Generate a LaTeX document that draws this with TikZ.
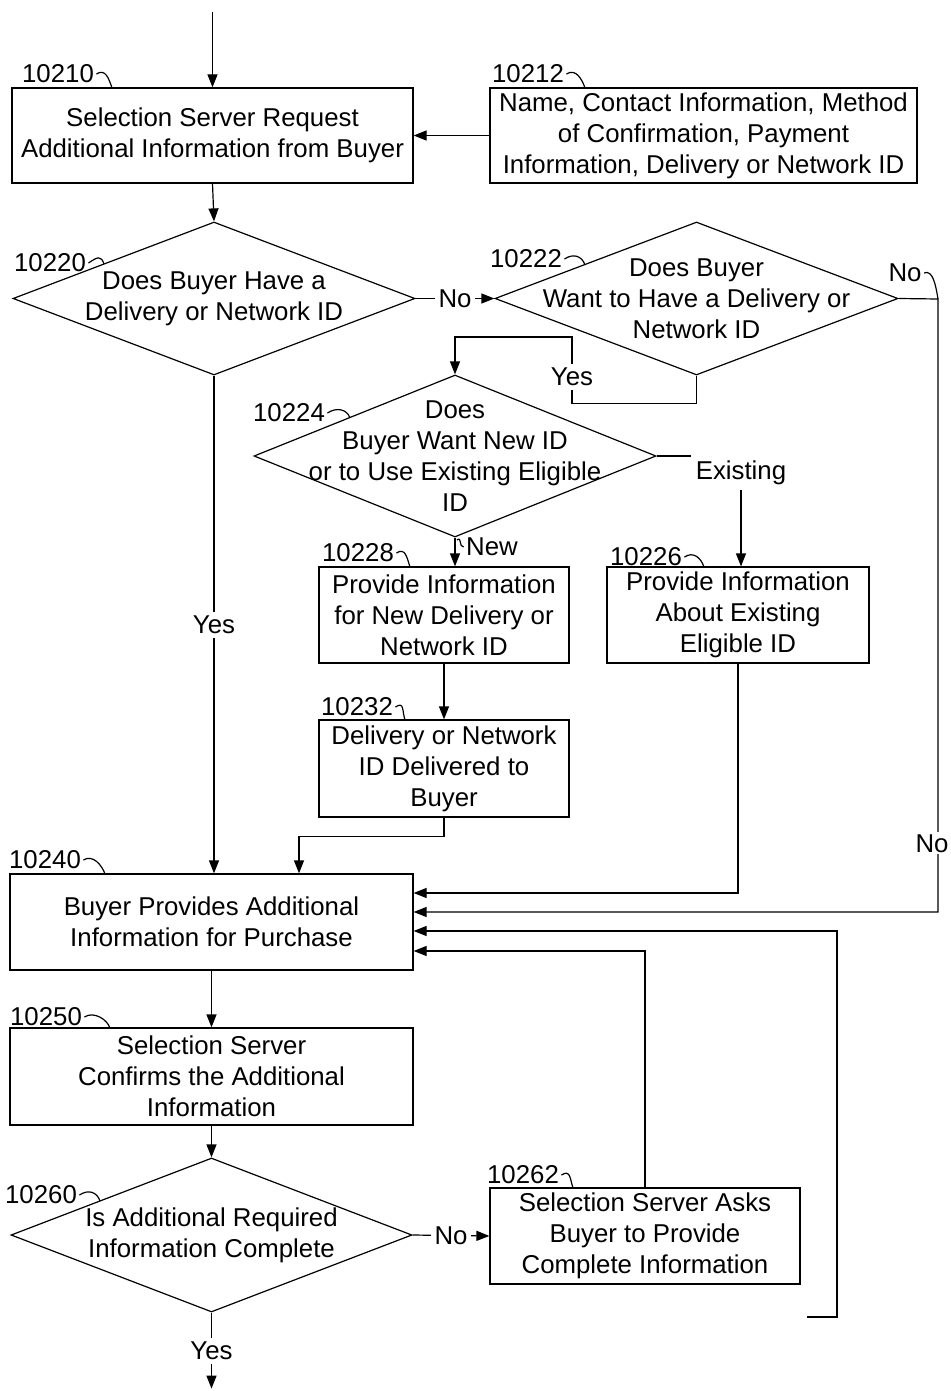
\documentclass[tikz,border=0pt]{standalone}
\usepackage{fontspec}
\setmainfont{Liberation Sans}
\usetikzlibrary{shapes.geometric,arrows.meta}

\begin{document}
\begin{tikzpicture}[x=0.5pt,y=-0.5pt,
        font=\fontsize{12.9}{15.5}\selectfont,
        line width=0.6pt,
        >={Triangle[length=6.5pt,width=5pt]},
        blk/.style={draw, rectangle, align=center, inner sep=0pt},
        dec/.style={draw, diamond, inner sep=0pt},
        txt/.style={align=center, inner sep=0pt},
        refno/.style={inner sep=1pt},
        lab/.style={fill=white, inner sep=2pt}]
    \useasboundingbox (0,0) rectangle (951,1391);

    \node[blk, minimum width=200.5pt, minimum height=47.5pt] (b10) at (212.5,135.5) {Selection Server Request\\Additional Information from Buyer};
    \node[blk, minimum width=213.5pt, minimum height=47.5pt] (b12) at (703.5,135.5) {Name, Contact Information, Method\\of Confirmation, Payment\\Information, Delivery or Network ID};
    \node[dec, minimum width=201pt, minimum height=76.5pt] (d20) at (214,298.5) {};
    \node[txt] (t20) at (d20) {Does Buyer Have a\\Delivery or Network ID};
    \node[dec, minimum width=201.5pt, minimum height=76.5pt] (d22) at (696.5,298.5) {};
    \node[txt] (t22) at (d22) {Does Buyer\\Want to Have a Delivery or\\Network ID};
    \node[dec, minimum width=201pt, minimum height=81pt] (d24) at (455,456) {};
    \node[txt] (t24) at (d24) {Does\\Buyer Want New ID\\or to Use Existing Eligible\\ID};
    \node[blk, minimum width=125pt, minimum height=48pt] (b28) at (444,615) {Provide Information\\for New Delivery or\\Network ID};
    \node[blk, minimum width=131pt, minimum height=48pt] (b26) at (738,615) {Provide Information\\About Existing\\Eligible ID};
    \node[blk, minimum width=125pt, minimum height=48.5pt] (b32) at (444,768.5) {Delivery or Network\\ID Delivered to\\Buyer};
    \node[blk, minimum width=201.5pt, minimum height=48pt] (b40) at (211.5,922) {Buyer Provides Additional\\Information for Purchase};
    \node[blk, minimum width=201.5pt, minimum height=48.5pt] (b50) at (211.5,1076.5) {Selection Server\\Confirms the Additional\\Information};
    \node[dec, minimum width=200.5pt, minimum height=77pt] (d60) at (211.5,1235) {};
    \node[txt] (t60) at (d60) {Is Additional Required\\Information Complete};
    \node[blk, minimum width=155pt, minimum height=48pt] (b62) at (645,1236) {Selection Server Asks\\Buyer to Provide\\Complete Information};

    \node[refno] (l10) at (58,74) {10210};
    \node[refno] (l12) at (528,74) {10212};
    \node[refno] (l20) at (50,263) {10220};
    \node[refno] (l22) at (526,259) {10222};
    \node[refno] (l24) at (289,413) {10224};
    \node[refno] (l28) at (358,553) {10228};
    \node[refno] (l26) at (646,557) {10226};
    \node[refno] (l32) at (357,707) {10232};
    \node[refno] (l40) at (45,860) {10240};
    \node[refno] (l50) at (46,1017) {10250};
    \node[refno] (l60) at (41,1195) {10260};
    \node[refno] (l62) at (523,1175) {10262};

    \coordinate (h10) at (112,88);
    \coordinate (h12) at (585,88);
    \coordinate (h20) at (104,264);
    \coordinate (h22) at (585,265);
    \coordinate (h24) at (350,418);
    \coordinate (h28) at (410,567);
    \coordinate (h26) at (704,567);
    \coordinate (h32) at (405,720);
    \coordinate (h40) at (105,874);
    \coordinate (h50) at (110,1028);
    \coordinate (h60) at (100,1201);
    \coordinate (h62) at (573,1188);
    \foreach \n in {10,12,20,22,24,28,26,32,40,50,60,62}
        \draw (l\n.east) .. controls +(9,-6) and +(-3,-9) .. (h\n);

    \coordinate (start) at (212.5,12);
    \coordinate (r22) at (938,299);
    \coordinate (j22) at (572,337);
    \coordinate (k24) at (457,540);
    \coordinate (lp) at (807,1317);

    \draw[->] (start) -- (b10.north);
    \draw[->] (b12.west) -- (b10.east);
    \draw[->] (b10.south) -- (d20.north);
    \draw[->] (d20.east) -- node[lab] (n20) {No} (d22.west);
    \draw[->] (d20.south) -- node[lab] (y20) {Yes} (d20.south |- b40.north);
    \node[refno] (n22) at (905,273) {No};
    \draw (n22.east) .. controls +(9,-4) and +(-2,-12) .. (r22);
    \draw[->] (d22.east) -- (r22) |- node[lab, pos=0.444, inner sep=1pt, xshift=-3pt] (m22) {No} ([yshift=5pt]b40.east);
    \draw[->] (d22.south) -- ++(0,28) -| node[lab, pos=0.7] (y22) {Yes} (j22) -| (d24.north);
    \node[lab] (ex) at (741,473) {Existing};
    \draw (d24.east) -- (d24.east -| ex.west);
    \draw[->] (ex.south) -- (ex.south |- b26.north);
    \node[refno] (new) at (492,547) {New};
    \draw (k24) .. controls +(5,-4) and +(-5,0) .. (new.west);
    \draw[->] (d24.south) -- (d24.south |- b28.north);
    \draw[->] (b28.south) -- (b32.north);
    \draw[->] (b32.south) -- ++(0,19) -| ([xshift=43.75pt]b40.north);
    \draw[->] (b26.south) |- ([yshift=14.5pt]b40.east);
    \draw[->] (lp) -- ++(30,0) |- ([yshift=-4.5pt]b40.east);
    \draw[->] (b62.north) |- ([yshift=-14.5pt]b40.east);
    \draw[->] (b40.south) -- (b50.north);
    \draw[->] (b50.south) -- (d60.north);
    \draw[->] (d60.east) -- node[lab] (n60) {No} (b62.west);
    \draw[->] (d60.south) -- node[lab] (y60) {Yes} ++(0,76);
\end{tikzpicture}
\end{document}
